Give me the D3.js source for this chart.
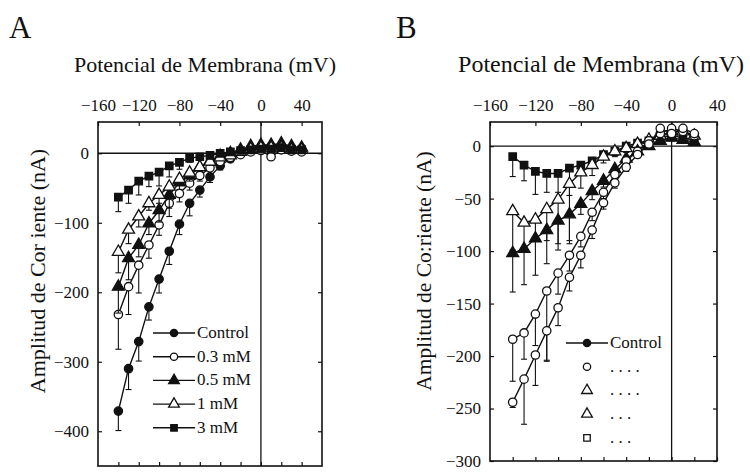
<!DOCTYPE html>
<html>
<head>
<meta charset="utf-8">
<script src="https://cdn.jsdelivr.net/npm/d3@7/dist/d3.min.js"></script>
<style>
body { margin: 0; background: #fff; }
</style>
</head>
<body>
<div id="chart"></div>
<script>
// Panel A data (mV, nA)
var voltsA = [-140, -130, -120, -110, -100, -90, -80, -70, -60, -50, -40, -30, -20, -10, 0, 10, 20, 30, 40];
var controlA = [-371, -310, -271, -221, -181, -141, -102, -72, -53, -34, -18, -8, 0, 5, 8, 10, 10, 8, 7];
var controlAErr = [28, 30, 28, 19, 20, 19, 15, 18, 10, 8, 6, 4, 3, 3, 3, 3, 3, 3, 3];
var mM03A = [-232, -192, -161, -132, -103, -72, -58, -43, -32, -21, -12, -6, -2, 2, 4, -5, 5, 3, 2];
var mM03AErr = [50, 40, 40, 19, 15, 19, 12, 10, 8, 8, 6, 5, 4, 3, 3, 4, 3, 3, 3];
var mM05A = [-192, -151, -132, -101, -82, -60, -42, -32, -20, -11, -4, 0, 5, 10, 12, 12, 14, 10, 8];
var mM05AErr = [38, 31, 17, 16, 17, 19, 10, 8, 6, 5, 4, 3, 3, 3, 3, 3, 3, 3, 3];
var mM1A = [-142, -110, -91, -72, -60, -48, -37, -28, -20, -12, -6, -3, 2, 6, 8, 8, 8, 5, 5];
var mM1AErr = [30, 20, 15, 10, 12, 10, 8, 8, 6, 5, 4, 3, 3, 3, 3, 3, 3, 3, 3];
var mM3A = [-63, -53, -40, -33, -27, -18, -13, -7, -5, -3, 0, 2, 4, 5, 6, 6, 8, 5, 5];
var mM3AErr = [21, 19, 20, 15, 20, 16, 10, 6, 5, 5, 4, 3, 3, 3, 3, 3, 3, 3, 3];
var legendA = ["Control", "0.3 mM", "0.5 mM", "1 mM", "3 mM"];

// Panel B data
var voltsB = [-140, -130, -120, -110, -100, -90, -80, -70, -60, -50, -40, -30, -20, -10, 0, 10, 20];
var squaresB = [-10, -18, -24, -26, -26, -21, -18, -14, -8, -5, 0, 3, 5, 8, 10, 8, 6];
var squaresBErr = [19, 15, 22, 18, 18, 26, 8, 6, 5, 4, 3, 3, 3, 3, 3, 3, 3];
var openTriB = [-62, -73, -70, -60, -51, -36, -25, -18, -10, -5, -2, 2, 6, 10, 14, 14, 10];
var openTriBErr = [37, 25, 20, 30, 42, 54, 15, 10, 6, 5, 4, 3, 3, 3, 3, 3, 3];
var fillTriB = [-102, -98, -88, -80, -71, -65, -55, -43, -33, -22, -12, -5, 0, 5, 8, 6, 4];
var fillTriBErr = [37, 34, 35, 32, 28, 28, 10, 8, 6, 5, 4, 3, 3, 3, 3, 3, 3];
var circ1B = [-184, -178, -160, -138, -121, -104, -86, -63, -44, -27, -14, -5, 5, 12, 17, 14, 10];
var circ1BErr = [40, 25, 30, 66, 20, 15, 10, 8, 6, 5, 4, 3, 3, 3, 3, 3, 3];
var circ2B = [-244, -222, -199, -176, -154, -125, -104, -80, -54, -35, -20, -8, 2, 17, 12, 17, 12];
var circ2BErr = [5, 43, 29, 29, 17, 13, 12, 8, 6, 5, 4, 3, 3, 3, 3, 3, 3];
var legendB = ["Control", ". . . .", ". . . .", ". . .", ". . ."];

var xTicks = [-160, -120, -80, -40, 0, 40];
var serif = "Liberation Serif";

var svg = d3.select("#chart").append("svg")
	.attr("width", 750)
	.attr("height", 472)
	.attr("font-family", serif);

function symbolPath(kind, size) {
	var type = kind.indexOf("tri") >= 0 ? d3.symbolTriangle :
		kind.indexOf("sq") >= 0 ? d3.symbolSquare : d3.symbolCircle;
	return d3.symbol().type(type).size(size)();
}

function isFilled(kind) {
	return kind.indexOf("open") < 0;
}

function drawPanel(p) {
	const x = d3.scaleLinear().domain(p.xDomain).range([p.left, p.right]);
	const y = d3.scaleLinear().domain(p.yDomain).range([p.bottom, p.top]);
	const g = svg.append("g");

	// frame
	g.append("rect")
		.attr("x", p.left).attr("y", p.top)
		.attr("width", p.right - p.left).attr("height", p.bottom - p.top)
		.attr("fill", "none").attr("stroke", "#111").attr("stroke-width", 1.6);

	// zero lines
	g.append("line")
		.attr("x1", p.left).attr("x2", p.right)
		.attr("y1", y(0)).attr("y2", y(0))
		.attr("stroke", "#111").attr("stroke-width", 1.3);
	g.append("line")
		.attr("x1", x(0)).attr("x2", x(0))
		.attr("y1", p.top).attr("y2", p.bottom)
		.attr("stroke", "#111").attr("stroke-width", 1.3);

	// axes
	const top = g.append("g")
		.attr("transform", "translate(0," + p.top + ")")
		.call(d3.axisTop(x).tickValues(xTicks).tickSize(-4).tickPadding(11));
	const bottom = g.append("g")
		.attr("transform", "translate(0," + p.bottom + ")")
		.call(d3.axisBottom(x).tickValues(d3.range(-140, 60, 20)).tickSize(-4).tickFormat(""));
	const left = g.append("g")
		.attr("transform", "translate(" + p.left + ",0)")
		.call(d3.axisLeft(y).tickValues(p.yTicks).tickSize(-4).tickPadding(9));
	const right = g.append("g")
		.attr("transform", "translate(" + p.right + ",0)")
		.call(d3.axisRight(y).tickValues(p.yTicks).tickSize(-4).tickFormat(""));
	[top, bottom, left, right].forEach(function(a) {
		a.attr("font-family", serif).attr("font-size", 17);
		a.select(".domain").remove();
		a.selectAll(".tick line").attr("stroke", "#111").attr("stroke-width", 1.2);
		a.selectAll("text").attr("fill", "#111");
	});

	// series
	p.series.forEach(function(s) {
		const pts = p.volts.map((v, i) => ({ v: v, a: s.values[i], e: s.err[i] }));
		g.append("path")
			.datum(pts)
			.attr("fill", "none")
			.attr("stroke", "#111")
			.attr("stroke-width", 1.4)
			.attr("d", d3.line().x(d => x(d.v)).y(d => y(d.a)));

		const eb = g.append("g").selectAll("g").data(pts).enter().append("g");
		eb.append("line")
			.attr("x1", d => x(d.v)).attr("x2", d => x(d.v))
			.attr("y1", d => y(d.a)).attr("y2", d => y(d.a - d.e))
			.attr("stroke", "#111").attr("stroke-width", 1.1);
		eb.append("line")
			.attr("x1", d => x(d.v) - 3).attr("x2", d => x(d.v) + 3)
			.attr("y1", d => y(d.a - d.e)).attr("y2", d => y(d.a - d.e))
			.attr("stroke", "#111").attr("stroke-width", 1.1);

		g.append("g").selectAll("path").data(pts).enter().append("path")
			.attr("transform", d => "translate(" + x(d.v) + "," + y(d.a) + ")")
			.attr("d", symbolPath(s.kind, s.kind.indexOf("tri") >= 0 ? 62 : 55))
			.attr("fill", isFilled(s.kind) ? "#111" : "#fff")
			.attr("stroke", "#111")
			.attr("stroke-width", 1.3);
	});

	// legend
	p.legend.forEach(function(lab, i) {
		const ly = p.legY + i * p.legStep;
		const kind = p.legKinds[i];
		if (p.legLines[i]) {
			g.append("line")
				.attr("x1", p.legX - 21).attr("x2", p.legX + 21)
				.attr("y1", ly).attr("y2", ly)
				.attr("stroke", "#111").attr("stroke-width", 1.4);
		}
		g.append("path")
			.attr("transform", "translate(" + p.legX + "," + ly + ")")
			.attr("d", symbolPath(kind, kind.indexOf("tri") >= 0 ? 50 : 42))
			.attr("fill", isFilled(kind) ? "#111" : "#fff")
			.attr("stroke", "#111")
			.attr("stroke-width", 1.3);
		g.append("text")
			.attr("x", p.legX + 23)
			.attr("y", ly + 5)
			.attr("font-size", 17)
			.attr("fill", "#111")
			.text(lab);
	});

	// titles
	g.append("text")
		.attr("x", p.titleX).attr("y", 72)
		.attr("text-anchor", "middle")
		.attr("font-size", p.titleSize)
		.attr("fill", "#111")
		.text("Potencial de Membrana (mV)");
	g.append("text")
		.attr("transform", "translate(" + p.yTitleX + ",271) rotate(-90)")
		.attr("text-anchor", "middle")
		.attr("font-size", p.yTitleSize)
		.attr("fill", "#111")
		.text(p.yTitle);
	g.append("text")
		.attr("x", p.letterX).attr("y", 38)
		.attr("font-size", 31)
		.attr("fill", "#111")
		.text(p.letter);
}

drawPanel({
	letter: "A", letterX: 9,
	left: 98, right: 322, top: 122, bottom: 466,
	xDomain: [-160, 60], yDomain: [-450, 45],
	yTicks: [0, -100, -200, -300, -400],
	volts: voltsA,
	series: [
		{ values: controlA, err: controlAErr, kind: "circle" },
		{ values: mM03A, err: mM03AErr, kind: "open circle" },
		{ values: mM05A, err: mM05AErr, kind: "tri" },
		{ values: mM1A, err: mM1AErr, kind: "open tri" },
		{ values: mM3A, err: mM3AErr, kind: "sq" }
	],
	legend: legendA,
	legKinds: ["circle", "open circle", "tri", "open tri", "sq"],
	legLines: [true, true, true, true, true],
	legX: 174, legY: 333, legStep: 23.7,
	titleX: 205, titleSize: 22, yTitleX: 45, yTitleSize: 22,
	yTitle: "Amplitud de Cor iente (nA)"
});

drawPanel({
	letter: "B", letterX: 396,
	left: 490, right: 717, top: 122, bottom: 461,
	xDomain: [-160, 40], yDomain: [-300, 23],
	yTicks: [0, -50, -100, -150, -200, -250, -300],
	volts: voltsB,
	series: [
		{ values: squaresB, err: squaresBErr, kind: "sq" },
		{ values: openTriB, err: openTriBErr, kind: "open tri" },
		{ values: fillTriB, err: fillTriBErr, kind: "tri" },
		{ values: circ1B, err: circ1BErr, kind: "open circle" },
		{ values: circ2B, err: circ2BErr, kind: "open circle" }
	],
	legend: legendB,
	legKinds: ["circle", "open circle", "open tri", "open tri", "open sq"],
	legLines: [true, false, false, false, false],
	legX: 587, legY: 343, legStep: 23.7,
	titleX: 601, titleSize: 24, yTitleX: 431, yTitleSize: 21.5,
	yTitle: "Amplitud de Co:riente (nA)"
});
</script>
</body>
</html>
